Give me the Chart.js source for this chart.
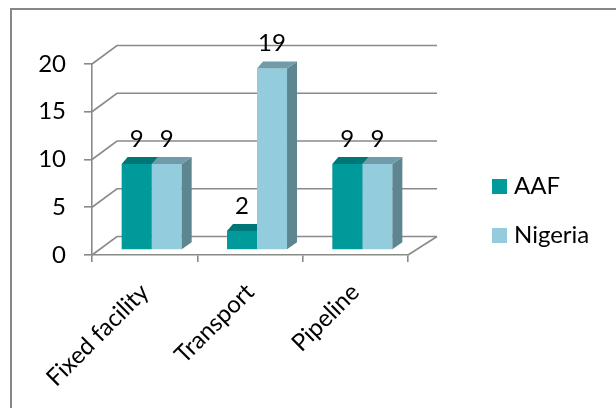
<!DOCTYPE html>
<html>
<head>
<meta charset="utf-8">
<script src="https://cdn.jsdelivr.net/npm/chart.js@4.4.1/dist/chart.umd.min.js"></script>
<style>
  html, body { margin: 0; padding: 0; background: #ffffff; }
  #wrap { width: 616px; height: 408px; position: relative; }
</style>
</head>
<body>
<div id="wrap"><canvas id="chart" width="616" height="408"></canvas></div>
<script>
// Incident counts by facility type
const categories = ['Fixed facility', 'Transport', 'Pipeline'];
const aafValues = [9, 2, 9];
const nigeriaValues = [9, 19, 9];
const seriesNames = ['AAF', 'Nigeria'];
const yTickStep = 5;
const yMax = 20;

const FONT = 'Lato, "Open Sans", "DejaVu Sans", sans-serif';
const FONT_SIZE = 24;
const GRID = '#8a8a8a';

// oblique depth of the 3D box
const WALL_DX = 25, WALL_DX_R = 29, WALL_DY = -18.5;   // back wall relative to front plane
const BAR_DX = 7, BAR_DY = -5;                          // bar front faces relative to front plane
const BAR_DEPTH_L = 6, BAR_DEPTH_R = 10, BAR_DEPTH_Y = -7;

const faceColors = [
  { front: '#009a9a', top: '#007777', side: '#006a6a' },
  { front: '#93cddd', top: '#6f9ca8', side: '#5e8691' }
];

function poly(ctx, pts, fill) {
  ctx.beginPath();
  ctx.moveTo(pts[0][0], pts[0][1]);
  for (let i = 1; i < pts.length; i++) ctx.lineTo(pts[i][0], pts[i][1]);
  ctx.closePath();
  ctx.fillStyle = fill;
  ctx.fill();
}

// top and right faces of each bar, in the shifted bar plane
function drawDepthFaces(ctx, meta, c) {
  meta.data.forEach(el => {
    const p = el.getProps(['x', 'y', 'base', 'width'], true);
    const L = p.x - p.width / 2, R = p.x + p.width / 2;
    poly(ctx, [[R, p.y], [R + BAR_DEPTH_R, p.y + BAR_DEPTH_Y], [R + BAR_DEPTH_R, p.base + BAR_DEPTH_Y], [R, p.base]], c.side);
    poly(ctx, [[L, p.y], [R, p.y], [R + BAR_DEPTH_R, p.y + BAR_DEPTH_Y], [L + BAR_DEPTH_L, p.y + BAR_DEPTH_Y]], c.top);
  });
}

const box3d = {
  id: 'box3d',
  beforeDraw(chart) {
    const ctx = chart.ctx;
    const y = chart.scales.y, x = chart.scales.x;
    ctx.save();
    ctx.fillStyle = '#ffffff';
    ctx.fillRect(0, 0, chart.width, chart.height);
    // outer frame
    ctx.strokeStyle = '#878787';
    ctx.lineWidth = 2;
    ctx.strokeRect(11, 9, 700, 500);
    // side-wall diagonals and back-wall gridlines
    ctx.strokeStyle = GRID;
    ctx.lineWidth = 1.6;
    const left = x.left, right = x.right;
    for (let v = 0; v <= yMax; v += yTickStep) {
      const py = y.getPixelForValue(v);
      ctx.beginPath();
      ctx.moveTo(left, py);
      ctx.lineTo(left + WALL_DX, py + WALL_DY);
      ctx.lineTo(right + WALL_DX_R, py + WALL_DY);
      ctx.stroke();
    }
    // floor right edge
    const p0 = y.getPixelForValue(0);
    ctx.beginPath();
    ctx.moveTo(right, p0);
    ctx.lineTo(right + WALL_DX_R, p0 + WALL_DY);
    ctx.stroke();
    ctx.restore();
  },
  beforeDatasetsDraw(chart) {
    // the first series sits behind its neighbour, so its depth faces go down first
    const ctx = chart.ctx;
    ctx.save();
    ctx.translate(BAR_DX, BAR_DY);
    drawDepthFaces(ctx, chart.getDatasetMeta(0), faceColors[0]);
    ctx.restore();
  },
  beforeDatasetDraw(chart) {
    chart.ctx.save();
    chart.ctx.translate(BAR_DX, BAR_DY);
  },
  afterDatasetDraw(chart, args) {
    if (args.index === 1) drawDepthFaces(chart.ctx, args.meta, faceColors[1]);
    chart.ctx.restore();
  },
  afterDatasetsDraw(chart) {
    const ctx = chart.ctx;
    ctx.save();
    ctx.font = FONT_SIZE + 'px ' + FONT;
    ctx.fillStyle = '#000000';
    ctx.textAlign = 'center';
    ctx.textBaseline = 'middle';
    // value labels
    chart.data.datasets.forEach((ds, di) => {
      const meta = chart.getDatasetMeta(di);
      meta.data.forEach((el, i) => {
        const p = el.getProps(['x', 'y'], true);
        ctx.fillText(String(ds.data[i]), p.x + BAR_DX, p.y + BAR_DY - 25);
      });
    });
    // legend
    ctx.textAlign = 'left';
    const legendY = [186.5, 235.5];
    seriesNames.forEach((name, i) => {
      ctx.fillStyle = faceColors[i].front;
      ctx.fillRect(492, legendY[i] - 7.5, 15, 15);
      ctx.fillStyle = '#000000';
      ctx.fillText(name, 514, legendY[i]);
    });
    ctx.restore();
  }
};

new Chart(document.getElementById('chart'), {
  type: 'bar',
  data: {
    labels: categories,
    datasets: [
      { label: seriesNames[0], data: aafValues, backgroundColor: faceColors[0].front, clip: false },
      { label: seriesNames[1], data: nigeriaValues, backgroundColor: faceColors[1].front, clip: false }
    ]
  },
  options: {
    responsive: false,
    animation: false,
    devicePixelRatio: 1,
    datasets: { bar: { categoryPercentage: 0.57, barPercentage: 1.0 } },
    layout: { padding: { top: 64, right: 208, left: 0, bottom: 0 } },
    plugins: { legend: { display: false }, tooltip: { enabled: false } },
    scales: {
      x: {
        grid: { drawOnChartArea: false, drawTicks: true, tickLength: 7, color: GRID, lineWidth: 1.6, offset: true },
        border: { display: true, color: GRID, width: 1.6 },
        ticks: { font: { family: FONT, size: FONT_SIZE }, color: '#000000', minRotation: 45, maxRotation: 45, autoSkip: false, padding: 16 },
        afterFit(s) { s.height = 153; }
      },
      y: {
        min: 0, max: yMax,
        grid: { drawOnChartArea: false, drawTicks: true, tickLength: 8, color: GRID, lineWidth: 1.6 },
        border: { display: true, color: GRID, width: 1.6 },
        ticks: { stepSize: yTickStep, font: { family: FONT, size: FONT_SIZE }, color: '#000000', padding: 18 },
        afterFit(s) { s.width = 92; }
      }
    }
  },
  plugins: [box3d]
});
</script>
</body>
</html>
